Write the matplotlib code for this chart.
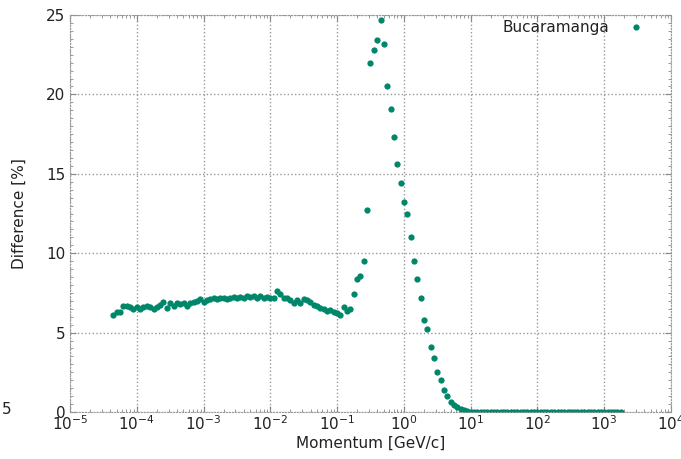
import matplotlib
matplotlib.use("Agg")
import matplotlib.pyplot as plt
from matplotlib.ticker import MultipleLocator, LogLocator

# momentum bins [GeV/c], 20 per decade
momentum = [
    4.47e-5, 5.01e-5, 5.62e-5, 6.31e-5, 7.08e-5, 7.94e-5, 8.91e-5,
    1.00e-4, 1.12e-4, 1.26e-4, 1.41e-4, 1.58e-4, 1.78e-4, 2.00e-4, 2.24e-4, 2.51e-4, 2.82e-4, 3.16e-4, 3.55e-4, 3.98e-4,
    4.47e-4, 5.01e-4, 5.62e-4, 6.31e-4, 7.08e-4, 7.94e-4, 8.91e-4,
    1.00e-3, 1.12e-3, 1.26e-3, 1.41e-3, 1.58e-3, 1.78e-3, 2.00e-3, 2.24e-3, 2.51e-3, 2.82e-3, 3.16e-3, 3.55e-3, 3.98e-3,
    4.47e-3, 5.01e-3, 5.62e-3, 6.31e-3, 7.08e-3, 7.94e-3, 8.91e-3,
    1.00e-2, 1.12e-2, 1.26e-2, 1.41e-2, 1.58e-2, 1.78e-2, 2.00e-2, 2.24e-2, 2.51e-2, 2.82e-2, 3.16e-2, 3.55e-2, 3.98e-2,
    4.47e-2, 5.01e-2, 5.62e-2, 6.31e-2, 7.08e-2, 7.94e-2, 8.91e-2,
    1.00e-1, 1.12e-1, 1.26e-1, 1.41e-1, 1.58e-1, 1.78e-1, 2.00e-1, 2.24e-1, 2.51e-1, 2.82e-1, 3.16e-1, 3.55e-1, 3.98e-1,
    4.47e-1, 5.01e-1, 5.62e-1, 6.31e-1, 7.08e-1, 7.94e-1, 8.91e-1,
    1.00, 1.12, 1.26, 1.41, 1.58, 1.78, 2.00, 2.24, 2.51, 2.82, 3.16, 3.55, 3.98,
    4.47, 5.01, 5.62, 6.31, 7.08, 7.94, 8.91,
    10.0, 11.2, 12.6, 14.1, 15.8, 17.8, 20.0, 22.4, 25.1, 28.2, 31.6, 35.5, 39.8,
    44.7, 50.1, 56.2, 63.1, 70.8, 79.4, 89.1,
    100., 112., 126., 141., 158., 178., 200., 224., 251., 282., 316., 355., 398.,
    447., 501., 562., 631., 708., 794., 891.,
    1000., 1120., 1260., 1410., 1580., 1780.,
]

# relative difference [%]
difference = [
    6.10, 6.30, 6.30, 6.65, 6.70, 6.60, 6.50,
    6.60, 6.50, 6.60, 6.70, 6.60, 6.50, 6.60, 6.75, 6.95, 6.55, 6.85, 6.70, 6.85,
    6.80, 6.85, 6.70, 6.85, 6.95, 7.00, 7.10,
    6.95, 7.05, 7.10, 7.15, 7.10, 7.20, 7.15, 7.10, 7.20, 7.25, 7.20, 7.25, 7.15,
    7.30, 7.25, 7.30, 7.15, 7.30, 7.20, 7.25,
    7.15, 7.20, 7.60, 7.45, 7.20, 7.20, 7.05, 6.85, 7.05, 6.85, 7.10, 7.05, 6.90,
    6.75, 6.70, 6.55, 6.50, 6.35, 6.45, 6.30,
    6.25, 6.10, 6.60, 6.35, 6.50, 7.45, 8.35, 8.55, 9.50, 12.70, 22.00, 22.80, 23.40,
    24.70, 23.20, 20.50, 19.05, 17.30, 15.60, 14.40,
    13.20, 12.50, 11.00, 9.50, 8.40, 7.20, 5.80, 5.20, 4.10, 3.40, 2.55, 2.00, 1.40,
    1.00, 0.65, 0.45, 0.30, 0.18, 0.10, 0.06,
    0.03, 0.02, 0.02, 0.01, 0.01, 0.01, 0.01, 0.01, 0.01, 0.01, 0.01, 0.01, 0.01,
    0.01, 0.01, 0.01, 0.01, 0.01, 0.01, 0.01,
    0.01, 0.01, 0.01, 0.01, 0.01, 0.01, 0.01, 0.01, 0.01, 0.01, 0.01, 0.01, 0.01,
    0.01, 0.01, 0.01, 0.01, 0.01, 0.01, 0.01,
    0.01, 0.01, 0.01, 0.01, 0.01, 0.01,
]

site = "Bucaramanga"
dot_color = "#00876a"
text_color = "#222222"

plt.rcParams["font.family"] = "DejaVu Sans"
plt.rcParams["font.size"] = 11

fig = plt.figure(figsize=(6.81, 4.59), dpi=100)
ax = fig.add_axes([0.1028, 0.1024, 0.8825, 0.8649])

ax.plot(momentum, difference, "o", color=dot_color, ms=4.5, mew=0, label=site)

ax.set_xscale("log")
ax.set_xlim(1e-5, 1e4)
ax.set_ylim(0, 25)
ax.xaxis.set_major_locator(LogLocator(base=10, numticks=12))
ax.xaxis.set_minor_locator(LogLocator(base=10, subs=range(2, 10), numticks=12))
ax.yaxis.set_major_locator(MultipleLocator(5))
ax.yaxis.set_minor_locator(MultipleLocator(0.5))

ax.grid(True, which="major", linestyle=":", color="#999999", linewidth=1.0)
for s in ax.spines.values():
    s.set_linestyle(":")
    s.set_color("#999999")
ax.tick_params(which="both", direction="in", top=True, right=True,
               color="#888888", labelcolor=text_color, labelsize=11)
ax.tick_params(which="major", length=4)
ax.tick_params(which="minor", length=2)
ax.tick_params(axis="x", which="major", pad=1.5)

ax.set_xlabel("Momentum [GeV/c]", color=text_color, fontsize=11, labelpad=2.5)
ax.set_ylabel("Difference [%]", color=text_color, fontsize=11, labelpad=14)

ax.legend(loc="upper right", bbox_to_anchor=(0.978, 1.003), borderaxespad=0,
          frameon=False, markerfirst=False, numpoints=1,
          fontsize=11, labelcolor=text_color)

fig.text(0.003, 1 - 410 / 459, "5", color=text_color, fontsize=11, va="center")

fig.savefig("out.png", dpi=100)
